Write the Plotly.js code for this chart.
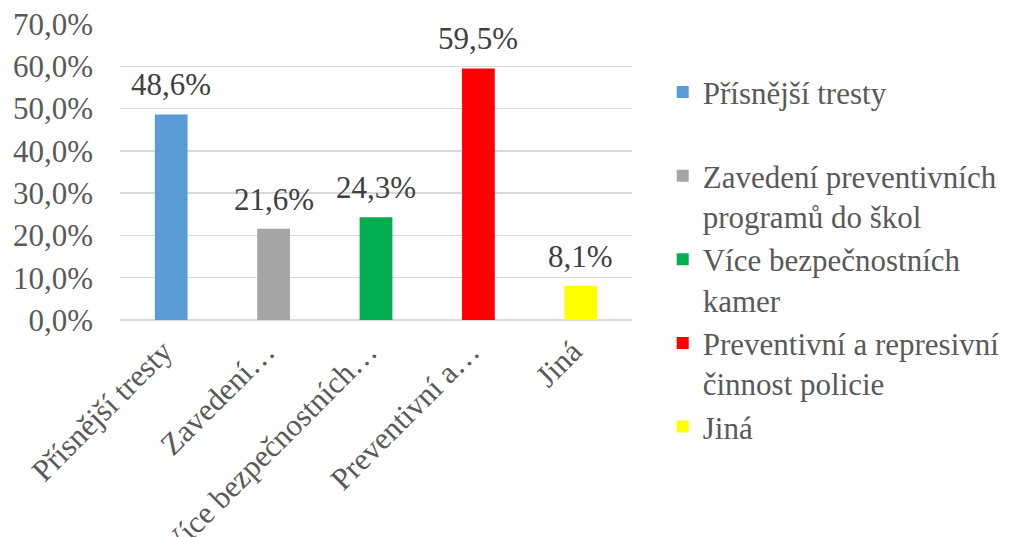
<!DOCTYPE html>
<html>
<head>
<meta charset="utf-8">
<script src="https://cdn.plot.ly/plotly-3.0.1.min.js"></script>
<style>
html,body{margin:0;padding:0;background:#fff;}
#chart{width:1017px;height:537px;}
</style>
</head>
<body>
<div id="chart"></div>
<script>
const categories = ["Přísnější tresty", "Zavedení preventivních programů do škol", "Více bezpečnostních kamer", "Preventivní a represivní činnost policie", "Jiná"];
const tickLabels = ["Přísnější tresty", "Zavedení…", "Více bezpečnostních…", "Preventivní a…", "Jiná"];
const legendNames = ["Přísnější tresty<br> ", "Zavedení preventivních<br>programů do škol", "Více bezpečnostních<br>kamer", "Preventivní a represivní<br>činnost policie", "Jiná"];
const values = [48.6, 21.6, 24.3, 59.5, 8.1];
const colors = ["#5B9BD5", "#A5A5A5", "#00B050", "#FF0000", "#FFFF00"];
const yTicks = [0, 10, 20, 30, 40, 50, 60, 70];
const yTickLabels = ["0,0%", "10,0%", "20,0%", "30,0%", "40,0%", "50,0%", "60,0%", "70,0%"];

const FONT = "Liberation Serif";

const traces = categories.map((c, i) => ({
  type: "bar",
  x: [c],
  y: [values[i]],
  name: legendNames[i],
  legendgroup: "g" + i,
  marker: {color: colors[i]},
  width: 0.32,
  hoverinfo: "skip"
}));

const annotations = categories.map((c, i) => ({
  x: c, y: values[i], xref: "x", yref: "y",
  text: values[i].toFixed(1).replace(".", ",") + "%",
  showarrow: false, yanchor: "bottom", yshift: 10,
  font: {family: FONT, size: 31, color: "#404040"}
}));

const layout = {
  width: 1017, height: 537,
  margin: {l: 120, r: 377, t: 24, b: 217},
  paper_bgcolor: "#fff", plot_bgcolor: "#fff",
  barmode: "relative",
  font: {family: FONT, size: 31, color: "#595959"},
  xaxis: {
    type: "category",
    categoryorder: "array", categoryarray: categories,
    tickvals: categories, ticktext: tickLabels,
    tickangle: -45,
    showgrid: false, showline: false, zeroline: false,
    ticks: "", automargin: false,
    ticklabelstandoff: 6, ticklabelshift: -8,
    tickfont: {family: FONT, size: 31, color: "#595959"}
  },
  yaxis: {
    range: [0, 70], tickvals: yTicks, ticktext: yTickLabels,
    showgrid: true, gridcolor: "#d9d9d9", gridwidth: 1.3,
    zeroline: true, zerolinecolor: "#d9d9d9", zerolinewidth: 1.3,
    showline: false, ticks: "", ticklabelstandoff: 26, automargin: false,
    tickfont: {family: FONT, size: 31, color: "#595959"}
  },
  showlegend: true,
  legend: {
    x: 1.06, xanchor: "left", y: 0.86, yanchor: "top",
    valign: "top",
    tracegroupgap: 0,
    maxheight: 500,
    font: {family: FONT, size: 31, color: "#595959"},
    bgcolor: "rgba(0,0,0,0)"
  },
  annotations: annotations
};

Plotly.newPlot("chart", traces, layout, {staticPlot: true, displayModeBar: false});
</script>
</body>
</html>
